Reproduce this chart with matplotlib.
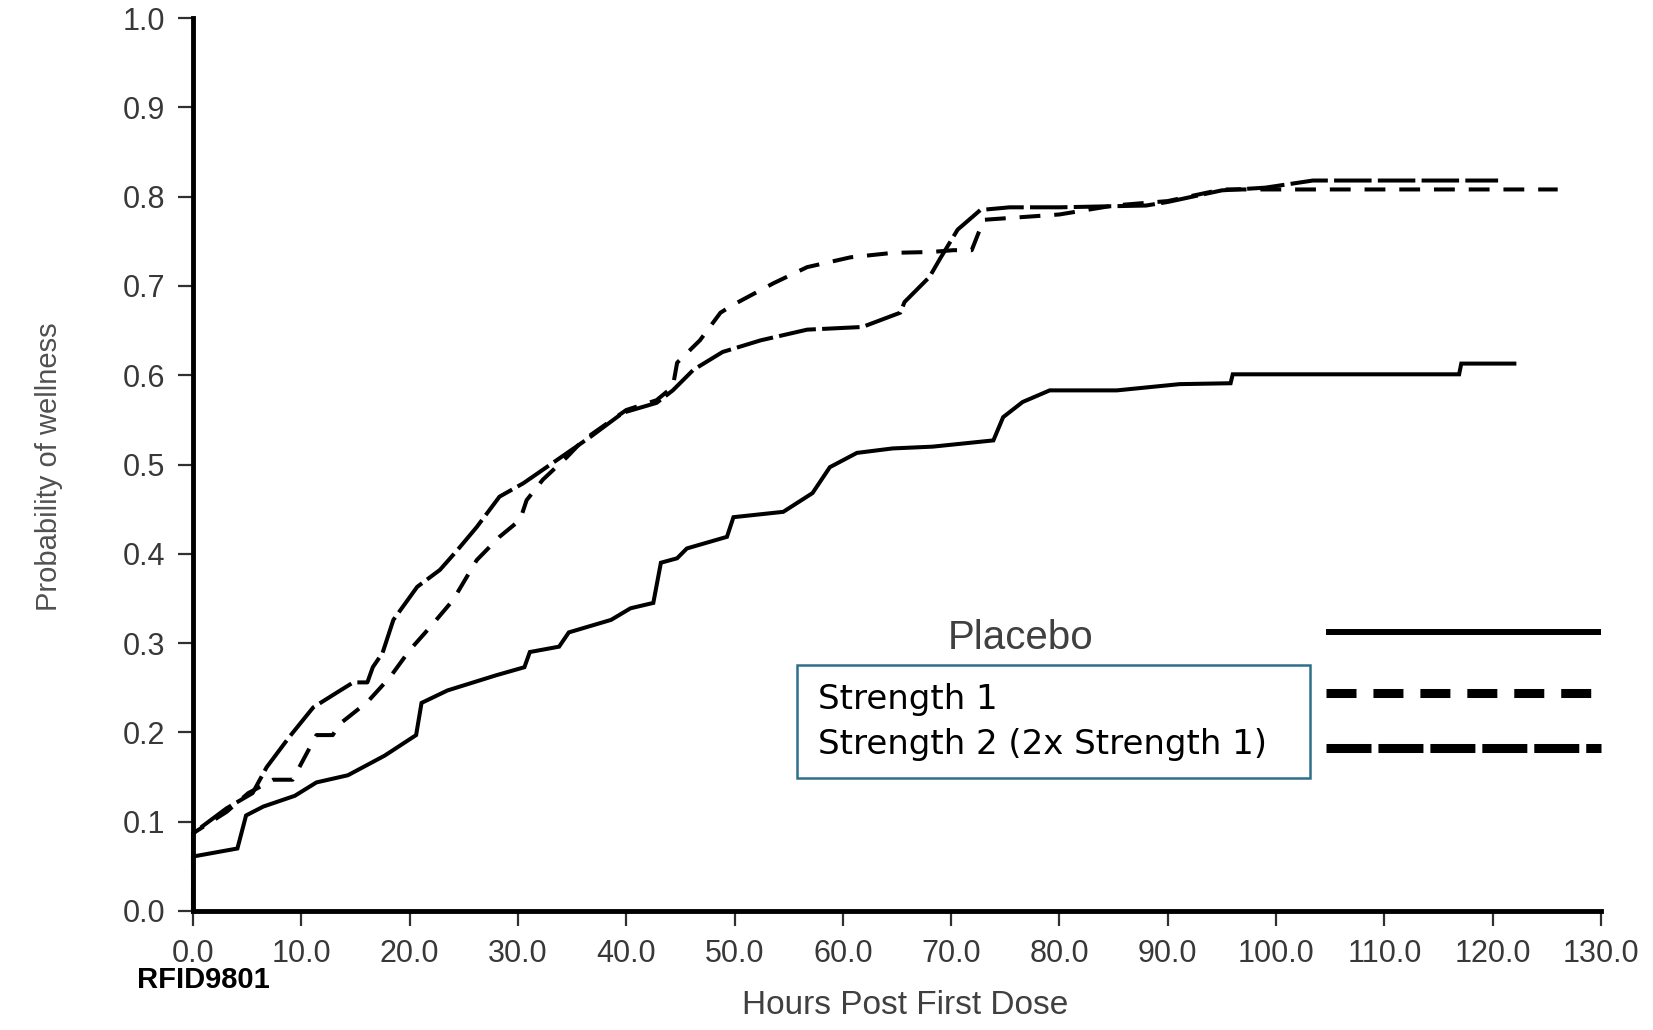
import matplotlib
matplotlib.use('Agg')
import matplotlib.pyplot as plt
from matplotlib.patches import Rectangle
import numpy as np

# hours post first dose / probability of wellness
placebo_h = [0, 0, 4.1, 4.9, 6.5, 9.4, 11.4, 14.3, 17.7, 20.6, 21.1, 23.5, 28, 30.6, 31.1,
             33.8, 34.7, 38.6, 40.4, 42.5, 43.2, 44.7, 45.6, 49.3, 49.9, 54.5, 57.2, 58.8,
             61.3, 64.6, 68.3, 73.9, 74.8, 76.6, 79.1, 85.3, 91.1, 95.8, 96, 116.9, 117.1, 122]
placebo_p = [0, 0.061, 0.07, 0.107, 0.117, 0.129, 0.144, 0.152, 0.174, 0.197, 0.233, 0.247,
             0.264, 0.273, 0.29, 0.296, 0.312, 0.326, 0.339, 0.345, 0.39, 0.395, 0.406, 0.419,
             0.441, 0.447, 0.468, 0.497, 0.513, 0.518, 0.52, 0.527, 0.553, 0.57, 0.583, 0.583,
             0.59, 0.591, 0.601, 0.601, 0.613, 0.613]

strength1_h = [0, 0, 3.1, 5.1, 7.4, 9.2, 11.4, 12.9, 13.6, 16.1, 18.2, 20, 21.9, 24, 26.2,
               28.3, 30.2, 30.8, 32.3, 34.5, 36, 40, 42.8, 44.3, 44.7, 46.8, 48.7, 49.9, 53.6,
               56.7, 60.7, 64.6, 68.2, 70.2, 71.9, 73, 80, 85, 90, 95, 103, 126]
strength1_p = [0, 0.087, 0.111, 0.132, 0.147, 0.147, 0.197, 0.197, 0.21, 0.234, 0.262, 0.292,
               0.318, 0.348, 0.393, 0.419, 0.438, 0.46, 0.483, 0.508, 0.527, 0.561, 0.572,
               0.587, 0.614, 0.639, 0.67, 0.679, 0.703, 0.721, 0.732, 0.737, 0.738, 0.74, 0.74,
               0.774, 0.78, 0.79, 0.795, 0.808, 0.808, 0.808]

strength2_h = [0, 0, 3.1, 5.5, 6.8, 8.9, 11.1, 13.6, 14.8, 16.1, 16.6, 17.5, 18.5, 20.7, 22.8,
               24.4, 26.2, 28.3, 30.5, 33.6, 36.7, 39.7, 42.8, 44.3, 46.2, 48.9, 52.4, 56.7,
               61.8, 65.3, 65.7, 68, 69, 70.6, 72.7, 75.4, 80, 88, 90, 95, 99, 103.4, 120.5]
strength2_p = [0, 0.087, 0.115, 0.132, 0.161, 0.195, 0.228, 0.247, 0.256, 0.256, 0.273, 0.289,
               0.326, 0.363, 0.382, 0.404, 0.43, 0.464, 0.479, 0.505, 0.531, 0.558, 0.569,
               0.583, 0.606, 0.626, 0.639, 0.651, 0.654, 0.67, 0.682, 0.71, 0.731, 0.763,
               0.785, 0.788, 0.788, 0.79, 0.794, 0.807, 0.81, 0.818, 0.818]

labels = ['Placebo', 'Strength 1', 'Strength 2 (2x Strength 1)']
x_ticks = np.arange(0, 131, 10)
y_ticks = np.arange(0, 1.01, 0.1)

plt.rcParams['lines.scale_dashes'] = False
plt.rcParams['font.family'] = 'Liberation Sans'

fig = plt.figure(figsize=(16.53, 10.30), dpi=100)
ax = fig.add_axes([193 / 1653, 1 - 911 / 1030, 1408 / 1653, 893 / 1030])

lw = 2.9
ax.plot(placebo_h, placebo_p, color='black', lw=lw, solid_joinstyle='miter', clip_on=False)
ax.plot(strength1_h, strength1_p, color='black', lw=lw, linestyle=(0, (15, 10)), clip_on=False)
ax.plot(strength2_h, strength2_p, color='black', lw=lw, linestyle=(0, (27, 4.5)), clip_on=False)

ax.set_xlim(0, 130)
ax.set_ylim(0, 1.0)
ax.set_xticks(x_ticks)
ax.set_yticks(y_ticks)
ax.set_xticklabels(['%.1f' % v for v in x_ticks])
ax.set_yticklabels(['%.1f' % v for v in y_ticks])

for side in ['top', 'right']:
    ax.spines[side].set_visible(False)
for side in ['left', 'bottom']:
    ax.spines[side].set_linewidth(3.5)
    ax.spines[side].set_color('black')

ax.tick_params(axis='both', direction='out', length=11, width=1.6, color='#303030',
               labelsize=22, labelcolor='#383838')
ax.tick_params(axis='y', pad=9)
ax.tick_params(axis='x', pad=9)

ax.set_ylabel('Probability of wellness', fontsize=21, color='#505050')
ax.yaxis.set_label_coords(-0.092, 0.498)
ax.set_xlabel('Hours Post First Dose', fontsize=24, color='#404040')
ax.xaxis.set_label_coords(0.506, -0.089)

# legend drawn the way the original report has it
tr = ax.transAxes
ax.text(0.588, 0.306, labels[0], transform=tr, ha='center', va='center',
        fontsize=29, color='#404040')
ax.plot([0.805, 1.0], [0.312, 0.312], transform=tr, color='black', lw=4.3,
        solid_capstyle='butt', clip_on=False)
ax.plot([0.805, 1.0], [0.2446, 0.2446], transform=tr, color='black', lw=6.5,
        linestyle=(0, (21.6, 12.2)), dash_capstyle='butt', clip_on=False)
ax.plot([0.805, 1.0], [0.182, 0.182], transform=tr, color='black', lw=6.5,
        linestyle=(0, (32.4, 5)), dash_capstyle='butt', clip_on=False)

box = Rectangle((0.429, 0.149), 0.364, 0.126, transform=tr, fill=False,
                edgecolor='#2f6f8c', lw=1.8, clip_on=False)
ax.add_patch(box)
ax.text(0.444, 0.237, labels[1], transform=tr, ha='left', va='center',
        fontsize=24.5, family='DejaVu Sans', color='black')
ax.text(0.444, 0.187, labels[2], transform=tr, ha='left', va='center',
        fontsize=24.5, family='DejaVu Sans', color='black')

fig.text(137 / 1653, 1 - 980 / 1030, 'RFID9801', ha='left', va='center',
         fontsize=21, fontweight='bold', color='black')

fig.savefig('out.png', dpi=100)
